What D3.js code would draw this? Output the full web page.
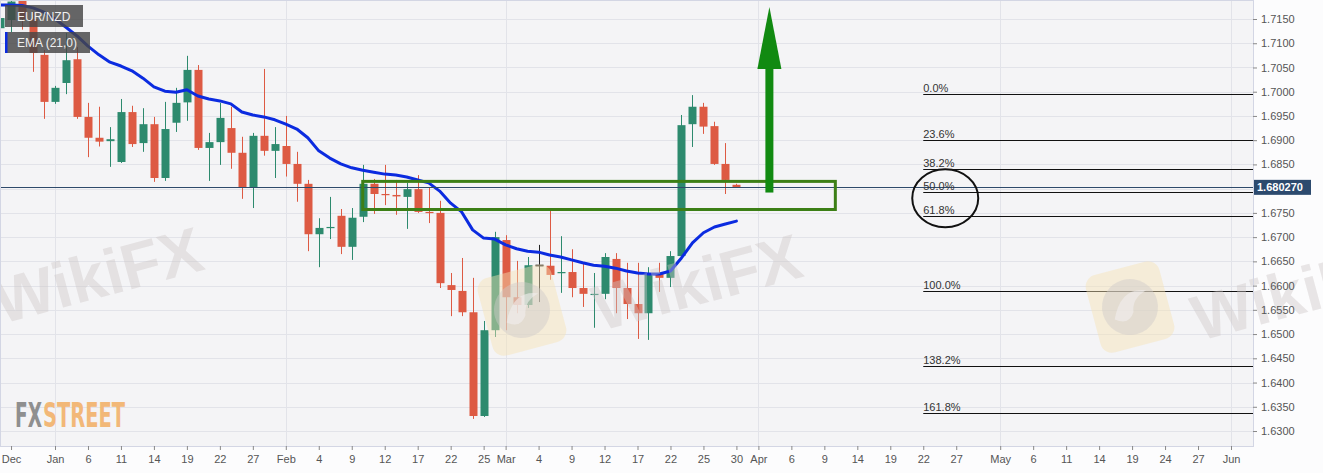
<!DOCTYPE html>
<html>
<head>
<meta charset="utf-8">
<script src="https://cdn.jsdelivr.net/npm/d3@7"></script>
<style>
  html, body { margin: 0; padding: 0; background: #fbfbfc; }
  svg { display: block; font-family: "Liberation Sans", Arial, sans-serif; }
</style>
</head>
<body>
<svg id="chart" width="1323" height="473"></svg>
<script>
'use strict';

// ─── DATA ────────────────────────────────────────────────────

var dates = [
  '2020-12-25','2020-12-28','2020-12-29','2020-12-30','2020-12-31',
  '2021-01-01','2021-01-04','2021-01-05','2021-01-06','2021-01-07','2021-01-08',
  '2021-01-11','2021-01-12','2021-01-13','2021-01-14','2021-01-15',
  '2021-01-18','2021-01-19','2021-01-20','2021-01-21','2021-01-22',
  '2021-01-25','2021-01-26','2021-01-27','2021-01-28','2021-01-29',
  '2021-02-01','2021-02-02','2021-02-03','2021-02-04','2021-02-05',
  '2021-02-08','2021-02-09','2021-02-10','2021-02-11','2021-02-12',
  '2021-02-15','2021-02-16','2021-02-17','2021-02-18','2021-02-19',
  '2021-02-22','2021-02-23','2021-02-24','2021-02-25','2021-02-26',
  '2021-03-01','2021-03-02','2021-03-03','2021-03-04','2021-03-05',
  '2021-03-08','2021-03-09','2021-03-10','2021-03-11','2021-03-12',
  '2021-03-15','2021-03-16','2021-03-17','2021-03-18','2021-03-19',
  '2021-03-22','2021-03-23','2021-03-24','2021-03-25','2021-03-26',
  '2021-03-29','2021-03-30'
];

var open = [
  1.7131, 1.7148, 1.7188, 1.7150, 1.7076,
  1.6979, 1.7018, 1.7067, 1.6948, 1.6905, 1.6898,
  1.6855, 1.6958, 1.6894, 1.6933, 1.6822,
  1.6936, 1.6978, 1.7045, 1.6884, 1.6896,
  1.6925, 1.6874, 1.6803, 1.6909, 1.6878,
  1.6888, 1.6851, 1.6810, 1.6706, 1.6719,
  1.6744, 1.6680, 1.6742, 1.6810, 1.6789,
  1.6787, 1.6783, 1.6799, 1.6752, 1.6750,
  1.6601, 1.6589, 1.6545, 1.6331, 1.6508,
  1.6694, 1.6576, 1.6560, 1.6642, 1.6641,
  1.6626, 1.6628, 1.6595, 1.6581, 1.6583,
  1.6655, 1.6595, 1.6562, 1.6543, 1.6626,
  1.6616, 1.6661, 1.6933, 1.6969, 1.6929,
  1.6851, 1.6808
];

var high = [
  1.7160, 1.7195, 1.7200, 1.7165, 1.7086,
  1.7012, 1.7121, 1.7092, 1.6977, 1.6969, 1.6927,
  1.6985, 1.6971, 1.6966, 1.6948, 1.6979,
  1.7008, 1.7074, 1.7055, 1.6915, 1.6977,
  1.6969, 1.6907, 1.6915, 1.7047, 1.6927,
  1.6950, 1.6876, 1.6818, 1.6739, 1.6783,
  1.6758, 1.6760, 1.6849, 1.6820, 1.6849,
  1.6818, 1.6812, 1.6828, 1.6803, 1.6775,
  1.6626, 1.6657, 1.6616, 1.6527, 1.6711,
  1.6704, 1.6651, 1.6659, 1.6684, 1.6756,
  1.6702, 1.6675, 1.6645, 1.6626, 1.6667,
  1.6667, 1.6647, 1.6647, 1.6638, 1.6647,
  1.6671, 1.6952, 1.6993, 1.6977, 1.6938,
  1.6894, 1.6810
];

var low = [
  1.7125, 1.7123, 1.7128, 1.7041, 1.6944,
  1.6975, 1.6995, 1.6944, 1.6865, 1.6887, 1.6845,
  1.6853, 1.6886, 1.6876, 1.6814, 1.6816,
  1.6917, 1.6940, 1.6880, 1.6816, 1.6849,
  1.6841, 1.6779, 1.6760, 1.6868, 1.6822,
  1.6825, 1.6773, 1.6671, 1.6638, 1.6696,
  1.6665, 1.6653, 1.6731, 1.6748, 1.6766,
  1.6746, 1.6717, 1.6750, 1.6729, 1.6595,
  1.6537, 1.6537, 1.6325, 1.6329, 1.6494,
  1.6508, 1.6543, 1.6554, 1.6566, 1.6612,
  1.6585, 1.6576, 1.6556, 1.6513, 1.6572,
  1.6543, 1.6531, 1.6490, 1.6488, 1.6587,
  1.6597, 1.6655, 1.6886, 1.6913, 1.6849,
  1.6789, 1.6802
];

var close = [
  1.7152, 1.7186, 1.7150, 1.7080, 1.6979,
  1.7008, 1.7065, 1.6948, 1.6905, 1.6897, 1.6902,
  1.6958, 1.6892, 1.6933, 1.6822, 1.6923,
  1.6977, 1.7045, 1.6884, 1.6896, 1.6946,
  1.6874, 1.6803, 1.6909, 1.6878, 1.6892,
  1.6851, 1.6810, 1.6706, 1.6719, 1.6721,
  1.6680, 1.6740, 1.6810, 1.6789, 1.6787,
  1.6784, 1.6799, 1.6752, 1.6750, 1.6605,
  1.6591, 1.6545, 1.6331, 1.6508, 1.6700,
  1.6576, 1.6560, 1.6642, 1.6642, 1.6622,
  1.6628, 1.6595, 1.6583, 1.6583, 1.6659,
  1.6595, 1.6562, 1.6543, 1.6626, 1.6616,
  1.6661, 1.6931, 1.6969, 1.6928, 1.6851,
  1.6818, 1.68027
];

var ema21 = [
  1.7179, 1.7179, 1.7178, 1.7173, 1.7164,
  1.7150, 1.7133, 1.7115, 1.7094, 1.7076, 1.7061,
  1.7053, 1.7043, 1.7028, 1.7010, 1.7001,
  1.6999, 1.7004, 1.6991, 1.6985, 1.6981,
  1.6975, 1.6958, 1.6952, 1.6948, 1.6942,
  1.6933, 1.6923, 1.6905, 1.6878, 1.6863,
  1.6851, 1.6843, 1.6838, 1.6834, 1.6830,
  1.6828, 1.6824, 1.6818, 1.6812, 1.6795,
  1.6770, 1.6752, 1.6715, 1.6698, 1.6696,
  1.6684, 1.6676, 1.6671, 1.6669, 1.6663,
  1.6659, 1.6653, 1.6647, 1.6642, 1.6640,
  1.6636, 1.6630, 1.6626, 1.6624, 1.6624,
  1.6630, 1.6657, 1.6688, 1.6709, 1.6721,
  1.6727, 1.6733
];

var lastPrice = 1.680270;

var tickDates = [
  '2020-12-28','2021-01-01','2021-01-06','2021-01-11','2021-01-14','2021-01-19','2021-01-22','2021-01-27',
  '2021-02-01','2021-02-04','2021-02-09','2021-02-12','2021-02-17','2021-02-22','2021-02-25',
  '2021-03-01','2021-03-04','2021-03-09','2021-03-12','2021-03-17','2021-03-22','2021-03-25','2021-03-30',
  '2021-04-01','2021-04-06','2021-04-09','2021-04-14','2021-04-19','2021-04-22','2021-04-27',
  '2021-05-03','2021-05-06','2021-05-11','2021-05-14','2021-05-19','2021-05-24','2021-05-27','2021-06-01'
];
var tickLabels = [
  'Dec','Jan','6','11','14','19','22','27',
  'Feb','4','9','12','17','22','25',
  'Mar','4','9','12','17','22','25','30',
  'Apr','6','9','14','19','22','27',
  'May','6','11','14','19','24','27','Jun'
];
var monthStarts = ['2021-01-01','2021-02-01','2021-03-01','2021-04-01','2021-05-03','2021-06-01'];

var fibHigh = 1.6996;
var fibLow = 1.6589;
var fibLevels = [0, 0.236, 0.382, 0.5, 0.618, 1.0, 1.382, 1.618];
var fibLabels = ['0.0%', '23.6%', '38.2%', '50.0%', '61.8%', '100.0%', '138.2%', '161.8%'];
var fibStart = '2021-04-22';

var zoneFrom = '2021-02-10', zoneTo = '2021-04-12';
var zoneTop = 1.6815, zoneBottom = 1.6757;

var arrowDate = '2021-04-02';
var arrowFrom = 1.6792, arrowTo = 1.7175;

var circleDate = '2021-04-26';
var circlePrice = 1.6780;

// ─── LAYOUT ──────────────────────────────────────────────────

var W = 1323, H = 473;
var plotW = 1253, plotH = 446;
var yTop = 1.71892, yBottom = 1.62691;

var UP = '#2d8a6e', DOWN = '#dd5a43';

// trading-day index (weekdays) relative to 2021-01-01
var BASE = Date.UTC(2021, 0, 1);
function tIndex(s) {
    var t = Date.parse(s + 'T00:00:00Z');
    var step = t >= BASE ? 1 : -1;
    var cur = BASE, n = 0;
    while (cur !== t) {
        cur += step * 86400000;
        var wd = new Date(cur).getUTCDay();
        if (wd !== 0 && wd !== 6) n += step;
    }
    return n;
}

var x = d3.scaleLinear()
    .domain([tIndex('2021-01-01'), tIndex('2021-06-01')])
    .range([55, 1231]);
var y = d3.scaleLinear().domain([yBottom, yTop]).range([plotH, 0]);

var candles = dates.map(function(d, i) {
    return { idx: tIndex(d), o: open[i], h: high[i], l: low[i], c: close[i], ema: ema21[i] };
});

var svg = d3.select('#chart');

svg.append('rect').attr('width', W).attr('height', H).attr('fill', '#fcfcfd');
svg.append('defs').append('clipPath').attr('id', 'plotclip')
    .append('rect').attr('width', plotW).attr('height', plotH);

// plot background
svg.append('rect').attr('x', 0).attr('y', 0).attr('width', plotW).attr('height', plotH)
    .attr('fill', '#f4f4f6');

var plot = svg.append('g').attr('clip-path', 'url(#plotclip)');

// horizontal grid
var yTicks = y.ticks(20);
plot.append('g').selectAll('line').data(yTicks).enter().append('line')
    .attr('x1', 0).attr('x2', plotW)
    .attr('y1', function(d) { return Math.round(y(d)) + 0.5; })
    .attr('y2', function(d) { return Math.round(y(d)) + 0.5; })
    .attr('stroke', '#e2e3e9').attr('stroke-width', 1);

// vertical grid at month starts
plot.append('g').selectAll('line').data(monthStarts).enter().append('line')
    .attr('x1', function(d) { return Math.round(x(tIndex(d))) + 0.5; })
    .attr('x2', function(d) { return Math.round(x(tIndex(d))) + 0.5; })
    .attr('y1', 0).attr('y2', plotH)
    .attr('stroke', '#e2e3e9').attr('stroke-width', 1);

// ─── WATERMARKS ──────────────────────────────────────────────

var wm = svg.append('g').attr('pointer-events', 'none');
[[98, 275], [697, 282], [1296, 292]].forEach(function(p) {
    wm.append('text')
        .attr('transform', 'translate(' + p[0] + ',' + p[1] + ') rotate(-15)')
        .attr('text-anchor', 'middle').attr('dy', '0.35em')
        .attr('font-size', 64).attr('font-weight', 'bold')
        .attr('fill', '#cdc6c6').attr('fill-opacity', 0.42)
        .text('WikiFX');
});
[[522, 310], [1130, 307]].forEach(function(p) {
    var g = wm.append('g').attr('transform', 'translate(' + p[0] + ',' + p[1] + ') rotate(-15)');
    g.append('rect').attr('x', -38).attr('y', -40).attr('width', 76).attr('height', 80).attr('rx', 12)
        .attr('fill', '#f6e3b4').attr('fill-opacity', 0.45);
    g.append('circle').attr('r', 28).attr('fill', '#cfc9c9').attr('fill-opacity', 0.45);
    g.append('path').attr('d', 'M-18,8 Q-4,-22 20,-12 Q4,-8 2,6 Q-6,18 -18,8 Z')
        .attr('fill', '#f1efef').attr('fill-opacity', 0.6);
});

// FXSTREET logo
var logoFont = '"Liberation Sans Narrow", "DejaVu Sans Condensed", sans-serif';
svg.append('text').attr('x', 15).attr('y', 427)
    .attr('font-family', logoFont).attr('font-weight', 'bold').attr('font-size', 33)
    .attr('textLength', 27).attr('lengthAdjust', 'spacingAndGlyphs')
    .attr('fill', '#8f8f8f').text('FX');
svg.append('text').attr('x', 43).attr('y', 427)
    .attr('font-family', logoFont).attr('font-weight', 'bold').attr('font-size', 33)
    .attr('textLength', 82).attr('lengthAdjust', 'spacingAndGlyphs')
    .attr('fill', '#f2b878').text('STREET');

// ─── CANDLES ─────────────────────────────────────────────────

function candleColor(d) {
    if (d.c > d.o) return UP;
    if (d.c < d.o) return DOWN;
    return '#222';
}

var cg = plot.append('g');
cg.selectAll('line.wick').data(candles).enter().append('line')
    .attr('class', 'wick')
    .attr('x1', function(d) { return Math.round(x(d.idx)) + 0.5; })
    .attr('x2', function(d) { return Math.round(x(d.idx)) + 0.5; })
    .attr('y1', function(d) { return y(d.h); })
    .attr('y2', function(d) { return y(d.l); })
    .attr('stroke', candleColor).attr('stroke-width', 1);

cg.selectAll('rect.body').data(candles).enter().append('rect')
    .attr('class', 'body')
    .attr('x', function(d) { return Math.round(x(d.idx)) - 3.5; })
    .attr('width', 8)
    .attr('y', function(d) { return Math.min(y(d.o), y(d.c)); })
    .attr('height', function(d) { return Math.max(1.2, Math.abs(y(d.o) - y(d.c))); })
    .attr('fill', candleColor);

// doji cross bar
cg.selectAll('line.doji').data(candles.filter(function(d) { return d.o === d.c; })).enter().append('line')
    .attr('x1', function(d) { return Math.round(x(d.idx)) - 3.5; })
    .attr('x2', function(d) { return Math.round(x(d.idx)) + 4.5; })
    .attr('y1', function(d) { return y(d.c); })
    .attr('y2', function(d) { return y(d.c); })
    .attr('stroke', '#222').attr('stroke-width', 1.2);

// EMA 21
plot.append('path').datum(candles)
    .attr('d', d3.line().x(function(d) { return x(d.idx); }).y(function(d) { return y(d.ema); }))
    .attr('fill', 'none').attr('stroke', '#0b2be0').attr('stroke-width', 3)
    .attr('stroke-linejoin', 'round').attr('stroke-linecap', 'round');

// last price line
plot.append('line')
    .attr('x1', 0).attr('x2', plotW)
    .attr('y1', Math.round(y(lastPrice)) + 0.5).attr('y2', Math.round(y(lastPrice)) + 0.5)
    .attr('stroke', '#2e4a6b').attr('stroke-width', 1);

// ─── FIBONACCI ───────────────────────────────────────────────

var fibX = x(tIndex(fibStart));
var fg = plot.append('g');
fibLevels.forEach(function(lv, i) {
    var py = Math.round(y(fibHigh - lv * (fibHigh - fibLow))) + 0.5;
    fg.append('line').attr('x1', fibX).attr('x2', plotW).attr('y1', py).attr('y2', py)
        .attr('stroke', '#111').attr('stroke-width', 1);
    fg.append('text').attr('x', fibX).attr('y', py - 3)
        .attr('font-size', 11).attr('fill', '#333').text(fibLabels[i]);
});

plot.append('ellipse')
    .attr('cx', x(tIndex(circleDate))).attr('cy', y(circlePrice))
    .attr('rx', 33).attr('ry', 29)
    .attr('fill', 'none').attr('stroke', '#111').attr('stroke-width', 2);

// ─── ZONE AND ARROW ──────────────────────────────────────────

plot.append('rect')
    .attr('x', x(tIndex(zoneFrom))).attr('y', y(zoneTop))
    .attr('width', x(tIndex(zoneTo)) - x(tIndex(zoneFrom)))
    .attr('height', y(zoneBottom) - y(zoneTop))
    .attr('fill', 'none').attr('stroke', '#3c7f16').attr('stroke-width', 3);

var ax = x(tIndex(arrowDate));
var headLen = 62, headHalf = 12, shaftHalf = 4;
plot.append('rect')
    .attr('x', ax - shaftHalf).attr('width', shaftHalf * 2)
    .attr('y', y(arrowTo) + headLen - 1).attr('height', y(arrowFrom) - y(arrowTo) - headLen + 1)
    .attr('fill', '#118a11');
plot.append('path')
    .attr('d', 'M' + ax + ',' + y(arrowTo) +
        'L' + (ax + headHalf) + ',' + (y(arrowTo) + headLen) +
        'L' + (ax - headHalf) + ',' + (y(arrowTo) + headLen) + 'Z')
    .attr('fill', '#118a11');

// ─── LEGEND ──────────────────────────────────────────────────

var lg = svg.append('g');
lg.append('rect').attr('x', 5).attr('y', 5).attr('width', 78).attr('height', 22)
    .attr('fill', '#464646').attr('fill-opacity', 0.82);
lg.append('text').attr('x', 17).attr('y', 20.5).attr('font-size', 12).attr('fill', '#f0f0f0').text('EUR/NZD');
lg.append('rect').attr('x', 5).attr('y', 32).attr('width', 85).attr('height', 21)
    .attr('fill', '#464646').attr('fill-opacity', 0.82);
lg.append('rect').attr('x', 5).attr('y', 32).attr('width', 2.5).attr('height', 21).attr('fill', '#0b2be0');
lg.append('text').attr('x', 17).attr('y', 47).attr('font-size', 12).attr('fill', '#f0f0f0').text('EMA (21,0)');

// ─── AXES ────────────────────────────────────────────────────

// plot border
svg.append('rect').attr('x', 0.5).attr('y', 0.5).attr('width', plotW).attr('height', plotH)
    .attr('fill', 'none').attr('stroke', '#d3d6e4').attr('stroke-width', 1);

// the last-price tag covers the axis label it sits on
var ly = y(lastPrice);
var yLabelTicks = yTicks.filter(function(d) { return Math.abs(y(d) - ly) > 8; });

var yAxis = svg.append('g').attr('transform', 'translate(' + plotW + ',0)')
    .call(d3.axisRight(y).tickValues(yLabelTicks).tickSize(4).tickPadding(4).tickFormat(d3.format('.4f')));
yAxis.select('.domain').remove();
yAxis.selectAll('line').attr('stroke', '#888');
yAxis.selectAll('text').attr('font-size', 11).attr('fill', '#555')
    .attr('font-family', '"Liberation Sans", Arial, sans-serif');

var xAxis = svg.append('g').attr('transform', 'translate(0,' + plotH + ')')
    .call(d3.axisBottom(x)
        .tickValues(tickDates.map(tIndex))
        .tickSize(4).tickPadding(5)
        .tickFormat(function(d, i) { return tickLabels[i]; }));
xAxis.select('.domain').remove();
xAxis.selectAll('line').attr('stroke', '#888');
xAxis.selectAll('text').attr('font-size', 11).attr('fill', '#555')
    .attr('font-family', '"Liberation Sans", Arial, sans-serif');

// last price label
svg.append('rect').attr('x', plotW + 1).attr('y', ly - 7.5).attr('width', 57).attr('height', 15)
    .attr('fill', '#2c4a6e');
svg.append('text').attr('x', plotW + 4).attr('y', ly + 4)
    .attr('font-size', 11).attr('font-weight', 'bold').attr('fill', '#ffffff')
    .text(d3.format('.6f')(lastPrice));
</script>
</body>
</html>
